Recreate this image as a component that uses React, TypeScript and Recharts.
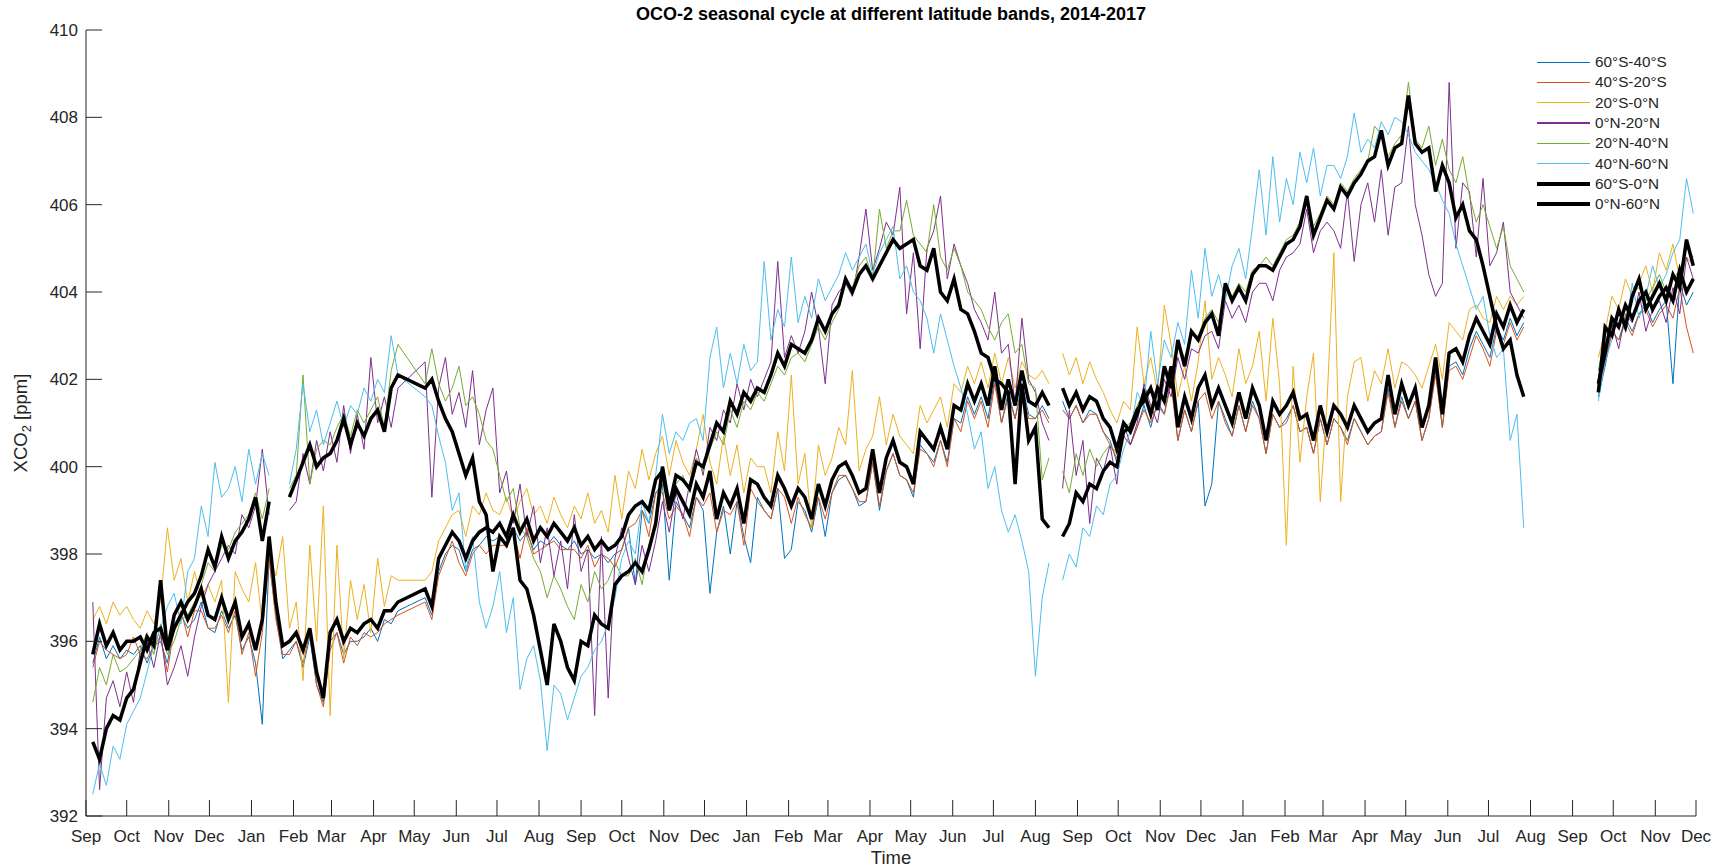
import React from 'react';
import { LineChart, Line, XAxis, YAxis } from 'recharts';

const FONT = '"Liberation Sans", Arial, Helvetica, sans-serif';
const INK = '#262626';
const W = 1728;
const H = 868;
const PLOT = { left: 86, right: 1696, top: 30, bottom: 816 };
const TICK = 16;

// x = days since 1 Sep 2014, every 5 days; one-point spans are data gaps
const daySpans = [[5, 230], [250, 710], [715, 715], [720, 1060], [1090, 1090], [1115, 1185]];
const days: number[] = [];
daySpans.forEach(([a, b]) => {
  for (let d = a; d <= b; d += 5) days.push(d);
});

const monthNames = ['Jan', 'Feb', 'Mar', 'Apr', 'May', 'Jun', 'Jul', 'Aug', 'Sep', 'Oct', 'Nov', 'Dec'];
const yTicks = [392, 394, 396, 398, 400, 402, 404, 406, 408, 410];

// month ticks Sep 2014 .. Dec 2017
const monthTicks: number[] = [];
const monthLabels: string[] = [];
const t0 = Date.UTC(2014, 8, 1);
for (let m = 8; m <= 47; m++) {
  monthTicks.push(Math.round((Date.UTC(2014, m, 1) - t0) / 86400000));
  monthLabels.push(monthNames[m % 12]);
}

const band60S40S = [
  395.5, 396.1, 395.6, 395.9, 395.6, 395.8, 395.7, 395.9, 395.5, 395.9,
  396.0, 395.5, 396.4, 396.6, 396.3, 396.5, 396.9, 396.3, 396.2, 396.7,
  396.3, 396.6, 395.8, 396.1, 395.5, 394.1, 397.9, 396.6, 395.6, 395.8,
  396.0, 395.4, 396.1, 395.0, 394.6, 396.0, 396.2, 395.7, 396.0, 396.0,
  396.1, 396.3, 396.0, 396.5, 396.4, 396.7,
  397.0, 396.6, 397.6, 398.0, 398.2, 398.1, 397.6, 398.1, 398.2, 398.4,
  398.3, 398.4, 398.2, 398.6, 398.3, 398.5, 398.1, 398.3, 398.2, 398.4,
  398.2, 398.1, 398.3, 398.0, 398.1, 397.9, 398.0, 397.8, 398.0, 398.1,
  398.6, 397.3, 399.0, 398.7, 399.4, 399.6, 397.4, 399.2, 398.9, 398.6,
  399.3, 399.0, 397.1, 398.5, 399.1, 398.0, 399.2, 398.4, 397.8, 399.3,
  399.0, 398.8, 399.5, 397.9, 398.1, 399.2, 399.0, 398.5, 399.3, 398.4,
  399.4, 399.7, 399.8, 399.5, 399.1, 399.2, 400.1, 399.0, 399.9, 400.3,
  399.8, 399.7, 399.3, 400.5, 400.3, 400.1, 400.6, 400.1, 401.1, 401.0,
  401.6, 401.2, 401.6, 401.1, 402.0, 401.0, 401.7, 401.1, 401.9, 401.2,
  401.1, 401.4, 401.1,
  null,
  401.5, 401.1, 401.4, 401.0, 401.3, 401.2, 400.8, 400.6, 400.1, 400.7,
  400.5, 400.9, 401.4, 400.9, 401.5, 401.2, 402.0, 400.6, 401.3, 400.8,
  401.5, 399.1, 399.6, 401.5, 401.1, 400.7, 401.4, 400.8, 401.5, 401.1,
  400.3, 401.2, 400.9, 401.1, 401.4, 400.8, 400.9, 400.3, 401.1, 400.5,
  401.1, 400.9, 400.6, 401.1, 400.8, 400.5, 400.7, 400.8, 401.8, 400.9,
  401.6, 401.1, 401.5, 400.6, 401.1, 402.2, 400.9, 402.3, 402.4, 402.1,
  402.7, 403.1, 402.8, 402.5, 403.2, 402.9, 403.4, 403.0, 403.3,
  null,
  401.6, 402.3, 403.1, 402.9, 403.4, 403.1, 403.5, 403.7, 403.3, 403.6,
  403.8, 401.9, 404.2, 403.7, 404.0,
];

const band40S20S = [
  395.4, 396.0, 395.8, 395.7, 395.6, 395.7, 396.1, 395.7, 395.6, 395.9,
  396.1, 395.3, 396.3, 396.7, 396.1, 396.7, 396.7, 396.3, 396.3, 396.6,
  396.2, 396.7, 395.7, 396.2, 395.2, 396.2, 397.9, 396.5, 395.7, 395.7,
  396.0, 395.5, 396.2, 395.0, 394.5, 395.8, 396.2, 395.5, 396.1, 395.9,
  396.2, 396.1, 396.2, 396.4, 396.5, 396.6,
  396.9, 396.5, 397.5, 397.9, 398.3, 397.8, 397.5, 398.0, 398.2, 398.0,
  398.2, 398.2, 398.2, 398.5, 397.9, 398.6, 398.0, 398.1, 398.2, 398.3,
  398.1, 398.1, 398.1, 397.9, 398.2, 397.7, 398.0, 397.9, 397.7, 398.1,
  398.6, 398.7, 399.0, 398.4, 399.4, 399.4, 398.8, 399.1, 398.9, 398.4,
  399.3, 399.1, 399.4, 398.5, 399.0, 398.9, 399.2, 398.2, 399.5, 399.2,
  399.0, 398.8, 399.5, 399.3, 398.7, 399.3, 398.9, 398.6, 399.3, 398.8,
  399.4, 399.8, 399.8, 399.5, 399.2, 399.2, 400.1, 399.1, 399.9, 400.3,
  399.8, 399.7, 399.4, 400.4, 400.3, 400.0, 400.6, 400.0, 401.1, 400.8,
  401.5, 401.1, 401.5, 400.9, 401.9, 401.0, 401.6, 401.1, 401.8, 401.1,
  401.1, 401.3, 401.0,
  null,
  401.3, 401.1, 401.4, 401.0, 401.2, 401.2, 400.8, 400.5, 400.2, 400.7,
  400.5, 400.9, 401.3, 401.0, 401.4, 401.2, 401.9, 400.6, 401.3, 400.8,
  401.5, 401.7, 401.1, 401.5, 401.0, 400.7, 401.4, 400.8, 401.4, 401.1,
  400.3, 401.2, 400.9, 401.0, 401.4, 400.8, 400.9, 400.3, 401.1, 400.5,
  401.1, 400.9, 400.5, 401.1, 400.8, 400.5, 400.7, 400.8, 401.7, 400.9,
  401.5, 401.1, 401.5, 400.6, 401.1, 402.1, 400.9, 402.2, 402.3, 402.0,
  402.5, 403.0, 402.7, 402.3, 403.1, 402.8, 403.3, 402.9, 403.2,
  null,
  401.7, 402.4, 403.1, 402.9, 403.3, 403.0, 403.5, 403.6, 403.2, 403.5,
  403.7, 403.4, 404.1, 403.2, 402.6,
];

const band20S0N = [
  396.5, 396.8, 396.4, 396.9, 396.6, 396.8, 396.5, 396.3, 396.7, 396.4,
  396.9, 398.6, 397.4, 397.9, 396.9, 397.6, 397.0, 397.3, 396.9, 397.4,
  394.6, 397.6, 397.2, 396.9, 397.8, 396.4, 398.0, 397.5, 398.4, 396.3,
  396.9, 395.1, 398.2, 396.0, 399.1, 394.3, 398.2, 395.6, 397.4, 396.5,
  397.3, 396.2, 397.9, 396.8, 397.5, 397.4,
  397.4, 397.6, 398.3, 398.6, 398.9, 399.0, 398.4, 399.1, 398.9, 399.4,
  399.0, 398.9, 399.3, 398.8, 399.2, 399.5, 398.9, 399.1, 398.7, 399.3,
  398.9, 398.6, 399.1, 398.8, 399.4, 398.7, 399.0, 398.5, 399.8, 398.8,
  399.9, 399.5, 400.4, 399.7, 400.3, 400.7, 399.8, 400.6, 400.1, 399.8,
  400.4, 401.2, 400.1, 399.6, 400.7, 399.8, 400.5, 399.4, 400.2, 400.0,
  400.0, 399.4, 400.8, 399.9, 402.1, 399.6, 400.3, 398.6, 400.5, 399.8,
  400.2, 400.9, 400.5, 402.2, 399.9, 400.4, 400.7, 401.6, 400.5, 401.2,
  400.7, 400.5, 400.3, 401.4, 401.0, 401.3, 401.6, 400.9, 401.9, 401.7,
  402.3, 401.9, 402.4, 401.8, 402.6, 401.9, 402.5, 401.8, 402.4, 402.1,
  402.0, 402.2, 401.9,
  null,
  402.6, 402.1, 402.5, 401.9, 402.4, 402.0, 401.7, 401.3, 401.0, 401.5,
  401.3, 403.2, 401.9, 402.5, 401.7, 403.7, 402.8, 401.6, 402.3, 401.5,
  402.4, 403.8, 402.0, 402.5, 402.1, 401.6, 402.7, 401.9, 402.3, 403.1,
  401.5, 403.4, 401.9, 398.2, 402.3, 400.1, 401.6, 402.6, 399.2, 401.5,
  404.9, 399.2, 401.6, 402.4, 402.5, 401.5, 402.2, 401.9, 402.7, 401.8,
  402.4, 402.3, 402.1, 401.8, 402.3, 402.8, 402.0, 403.3, 403.1, 402.9,
  403.6, 403.7, 403.4, 403.3, 403.9, 403.6, 403.9, 403.7, 403.9,
  null,
  402.5, 403.1, 403.9, 403.6, 404.3, 403.9, 404.2, 404.6, 404.0, 404.9,
  404.5, 405.1, 404.3, 404.8, 404.6,
];

const band0N20N = [
  396.9, 392.6, 394.7, 395.1, 394.5, 395.3, 394.6, 395.8, 396.0, 395.4,
  396.2, 395.0, 395.4, 395.9, 395.2, 396.1, 396.8, 397.3, 397.6, 397.9,
  398.2, 398.0, 398.9, 398.6, 399.1, 400.4, 398.9, null, null, 399.0,
  399.2, 400.3, 399.6, 400.6, 399.9, 400.8, 400.1, 401.4, 400.3, 401.2,
  400.4, 402.5, 401.0, 401.6, 400.9, 401.8,
  402.4, 399.3, 401.8, 402.5, 401.2, 401.7, 400.9, 402.2, 400.5, 401.3,
  401.8, 399.4, 399.9, 398.7, 399.6, 398.4, 399.1, 397.8, 398.6, 397.5,
  398.3, 397.2, 398.9, 397.6, 398.1, 394.3, 398.4, 394.7, 397.9, 398.6,
  397.9, 397.3, 398.2, 397.6, 398.3, 399.2, 398.5, 399.4, 398.8, 399.6,
  400.4, 399.8, 400.9, 400.6, 401.3, 401.0, 401.9, 401.3, 402.0, 401.6,
  402.0, 402.4, 404.7, 402.5, 403.0, 402.6, 403.1, 404.0, 403.2, 401.9,
  403.7, 404.0, 404.2, 403.9, 404.8, 405.9, 404.5, 405.0, 405.6, 405.3,
  406.4, 403.5, 404.9, 402.7, 405.0, 405.4, 406.2, 404.3, 405.1, 404.6,
  404.2, 403.6, 403.3, 402.9, 404.0, 402.6, 402.8, 401.4, 403.4, 402.0,
  401.7, 401.0, 400.6,
  null,
  399.5, 401.3, 399.8, 400.6, 398.7, 400.2, 399.9, 400.5, 399.6, 401.0,
  400.5, 401.0, 401.9, 401.4, 401.0, 402.0, 401.6, 402.5, 402.0, 402.7,
  402.6, 403.0, 403.1, 402.7, 403.8, 403.4, 403.7, 403.3, 404.0, 404.2,
  404.2, 403.8, 404.5, 404.8, 404.9, 405.1, 405.9, 404.9, 405.4, 405.6,
  405.4, 405.0, 406.3, 404.7, 406.0, 406.5, 405.6, 406.8, 405.3, 406.4,
  406.5, 407.8, 406.0, 405.3, 404.4, 403.9, 404.2, 408.8, 405.0, 406.5,
  406.3, 404.8, 406.6, 404.6, 404.9, 405.6, 404.0, 403.7, 403.4,
  null,
  401.9, 402.8, 403.3, 402.7, 403.5, 403.3, 404.0, 403.1, 403.6, 403.8,
  403.3, 404.1, 403.5, 404.8, 404.3,
];

const band20N40N = [
  394.6, 395.4, 395.0, 395.7, 395.3, 395.4, 395.6, 395.8, 396.2, 395.7,
  396.4, 395.7, 396.0, 396.5, 396.6, 396.9, 397.3, 397.8, 397.6, 398.2,
  398.1, 398.5, 398.7, 398.9, 399.4, 398.8, 399.5, null, null, 399.5,
  399.8, 402.1, 399.6, 400.4, 400.6, 400.5, 400.9, 401.2, 400.7, 401.3,
  401.0, 401.3, 401.6, 400.9, 402.2, 402.8,
  401.9, 402.7, 401.9, 401.5, 401.8, 402.3, 401.4, 401.6, 401.2, 400.6,
  400.4, 399.8, 399.2, 399.5, 398.6, 398.4, 397.9, 397.6, 397.0, 397.5,
  397.2, 396.8, 396.5, 397.3, 396.9, 397.6, 397.2, 397.4, 397.8, 397.5,
  397.5, 397.9, 397.3, 398.2, 398.6, 399.7, 399.0, 399.6, 399.8, 399.4,
  400.2, 399.9, 400.4, 400.8, 400.5, 401.3, 400.9, 401.5, 401.3, 401.7,
  401.5, 401.9, 402.3, 402.1, 402.5, 402.6, 402.4, 402.8, 403.2, 402.9,
  403.3, 403.6, 404.2, 404.1, 404.6, 404.8, 404.3, 405.9, 405.0, 405.4,
  405.4, 406.1, 405.3, 405.1, 404.9, 406.0, 404.8, 404.5, 405.0, 404.6,
  404.0, 403.8, 403.6, 403.2, 402.9, 403.3, 403.5, 402.6, 402.8, 401.9,
  401.8, 399.7, 400.2,
  null,
  399.9, 399.4, 400.3, 399.8, 400.4, 400.0, 400.3, 400.5, 400.3, 400.9,
  401.0, 401.4, 401.7, 401.8, 401.6, 402.2, 402.0, 402.8, 402.5, 403.0,
  403.0, 403.4, 403.6, 403.3, 404.1, 403.9, 404.2, 404.0, 404.5, 404.6,
  404.8, 404.6, 404.9, 405.2, 405.3, 405.6, 406.0, 405.5, 405.8, 406.2,
  406.0, 406.5, 406.3, 406.6, 406.8, 407.0, 407.8, 407.6, 407.1, 407.4,
  407.6, 408.8, 407.5, 407.3, 407.8, 406.9, 407.5, 406.8, 406.5, 407.1,
  406.2, 405.6, 406.0, 405.5, 405.0, 405.5, 404.6, 404.3, 404.0,
  null,
  402.2, 403.0, 403.3, 403.5, 403.4, 404.0, 404.1, 403.8, 404.1, 404.4,
  404.0, 404.3, 404.5, 405.0, 404.8,
];

const band40N60N = [
  392.5, 393.2, 392.7, 393.6, 393.3, 394.1, 394.4, 394.7, 395.3, 395.9,
  396.3, 396.8, 397.1, 396.4, 397.6, 397.9, 399.1, 398.4, 400.1, 399.3,
  399.5, 400.0, 399.2, 400.4, 399.6, 400.3, 399.8, null, null, 399.6,
  400.4, 401.9, 400.8, 401.3, 400.5, 401.0, 401.5, 400.9, 401.4, 401.2,
  401.8, 401.5, 402.0, 401.7, 403.0, 402.1,
  401.6, 401.4, 400.7, 400.1, 399.0, 399.4, 397.6, 398.4, 396.9, 396.3,
  396.8, 397.6, 396.2, 397.0, 394.9, 395.6, 395.9, 395.1, 393.5, 395.0,
  394.8, 394.2, 394.7, 395.2, 395.4, 395.8, 396.0, 396.4, 397.0, 397.9,
  398.3, 398.0, 399.2, 398.7, 399.8, 401.2, 400.3, 400.8, 400.6, 401.0,
  401.1, 400.6, 402.5, 403.2, 401.8, 402.6, 401.9, 402.8, 402.2, 402.4,
  404.7, 402.9, 403.6, 403.2, 404.8, 403.3, 403.9, 403.4, 404.3, 403.8,
  404.1, 404.4, 404.9, 404.5, 404.8, 405.1, 404.4, 404.9, 405.2, 405.5,
  404.3, 404.6, 404.0, 403.8, 403.4, 402.6, 403.5, 402.9, 402.3, 401.8,
  401.2, 400.4, 400.8, 399.5, 400.0, 399.0, 398.5, 398.9, 398.3, 397.6,
  395.2, 397.0, 397.8,
  null,
  397.4, 398.0, 397.7, 398.6, 398.4, 399.1, 398.9, 399.6, 399.8, 400.4,
  400.8, 401.7, 401.4, 403.1, 401.9, 402.9, 402.5, 403.3, 402.8, 404.5,
  403.4, 405.0, 403.9, 404.4, 403.8, 404.6, 405.0, 404.3, 405.5, 406.8,
  405.3, 407.1, 405.6, 406.6, 406.0, 407.2, 406.5, 407.3, 406.2, 406.9,
  406.9, 406.6, 407.1, 408.1, 407.2, 407.5, 407.3, 407.9, 407.6, 408.0,
  407.9, 407.6, 407.2, 407.0, 406.8, 406.5, 406.1, 405.8, 405.1, 404.6,
  404.1, 403.6, 403.9, 403.0, 402.5, 402.7, 400.6, 401.2, 398.6,
  null,
  401.5, 402.4, 402.9, 403.6, 403.1, 404.2, 403.4, 403.9, 404.6, 404.1,
  404.4, 404.9, 405.2, 406.6, 405.8,
];

const mean60S0N = [
  395.7, 396.4, 395.9, 396.2, 395.8, 396.0, 396.0, 396.1, 395.8, 396.2,
  396.3, 395.8, 396.6, 396.9, 396.5, 396.8, 397.2, 396.6, 396.5, 397.0,
  396.5, 396.9, 396.1, 396.4, 395.8, 396.5, 398.4, 396.9, 395.9, 396.0,
  396.2, 395.8, 396.3, 395.3, 394.7, 396.2, 396.5, 396.0, 396.3, 396.2,
  396.4, 396.5, 396.3, 396.7, 396.7, 396.9,
  397.2, 396.8, 397.9, 398.2, 398.5, 398.3, 397.9, 398.3, 398.5, 398.6,
  398.5, 398.7, 398.4, 398.9, 398.5, 398.8, 398.3, 398.6, 398.4, 398.7,
  398.5, 398.3, 398.6, 398.2, 398.4, 398.1, 398.3, 398.1, 398.2, 398.4,
  398.9, 399.1, 399.2, 399.0, 399.7, 399.9, 399.0, 399.5, 399.2, 398.9,
  399.6, 399.3, 399.9, 398.8, 399.4, 399.1, 399.5, 398.7, 399.7, 399.6,
  399.3, 399.1, 399.8, 399.5, 399.1, 399.5, 399.3, 398.8, 399.6, 399.1,
  399.7, 400.0, 400.1, 399.8, 399.4, 399.5, 400.4, 399.4, 400.2, 400.6,
  400.1, 400.0, 399.6, 400.8, 400.6, 400.4, 400.9, 400.4, 401.4, 401.3,
  401.9, 401.5, 401.9, 401.4, 402.3, 401.3, 402.0, 401.4, 402.2, 401.5,
  401.4, 401.7, 401.4,
  null,
  401.8, 401.4, 401.7, 401.3, 401.6, 401.5, 401.1, 400.9, 400.4, 401.0,
  400.8, 401.2, 401.7, 401.2, 401.8, 401.5, 402.3, 400.9, 401.6, 401.1,
  401.8, 402.1, 401.4, 401.8, 401.4, 401.0, 401.7, 401.1, 401.8, 401.4,
  400.6, 401.5, 401.2, 401.4, 401.7, 401.1, 401.2, 400.6, 401.4, 400.8,
  401.4, 401.2, 400.9, 401.4, 401.1, 400.8, 401.0, 401.1, 402.1, 401.2,
  401.9, 401.4, 401.8, 400.9, 401.4, 402.5, 401.2, 402.6, 402.7, 402.4,
  403.0, 403.4, 403.1, 402.8, 403.5, 403.2, 403.7, 403.3, 403.6,
  null,
  401.9, 402.6, 403.4, 403.2, 403.7, 403.4, 403.8, 404.0, 403.6, 403.9,
  404.1, 403.8, 404.5, 404.0, 404.3,
];

const mean0N60N = [
  393.7, 393.3, 394.0, 394.3, 394.2, 394.7, 394.9, 395.5, 396.1, 395.9,
  397.4, 395.8, 396.3, 396.6, 396.9, 397.1, 397.5, 398.1, 397.7, 398.4,
  397.9, 398.3, 398.5, 398.8, 399.3, 398.3, 399.2, null, null, 399.3,
  399.7, 400.1, 400.5, 400.0, 400.2, 400.3, 400.6, 401.1, 400.5, 401.0,
  400.7, 401.1, 401.3, 400.8, 401.8, 402.1,
  401.8, 402.0, 401.5, 401.1, 400.8, 400.3, 399.8, 400.2, 399.2, 398.9,
  397.6, 398.4, 398.2, 398.6, 397.4, 397.2, 396.6, 395.8, 395.0, 396.4,
  396.0, 395.4, 395.1, 396.0, 395.9, 396.6, 396.4, 396.3, 397.3, 397.5,
  397.6, 397.8, 397.6, 398.1, 398.7, 400.0, 399.1, 399.8, 399.7, 399.5,
  400.1, 400.0, 400.5, 401.0, 400.8, 401.5, 401.2, 401.7, 401.5, 401.8,
  401.7, 402.1, 402.6, 402.3, 402.8, 402.7, 402.6, 402.9, 403.4, 403.1,
  403.5, 403.7, 404.3, 404.0, 404.4, 404.6, 404.3, 404.6, 404.9, 405.2,
  405.0, 405.1, 405.2, 404.6, 404.5, 405.0, 404.0, 403.8, 404.3, 403.6,
  403.5, 403.1, 402.6, 402.5, 402.0, 401.9, 401.7, 399.6, 401.9, 400.6,
  400.9, 398.8, 398.6,
  null,
  398.4, 398.7, 399.4, 399.2, 399.6, 399.5, 399.9, 400.1, 400.0, 400.8,
  400.9, 401.3, 401.5, 401.8, 401.3, 402.3, 401.8, 402.9, 402.3, 403.1,
  402.9, 403.3, 403.5, 403.0, 404.2, 403.8, 404.1, 403.8, 404.4, 404.6,
  404.6, 404.5, 404.8, 405.1, 405.2, 405.5, 406.2, 405.3, 405.7, 406.1,
  405.9, 406.4, 406.2, 406.5, 406.7, 407.0, 407.1, 407.7, 406.9, 407.3,
  407.4, 408.5, 407.4, 407.2, 407.3, 406.3, 406.9, 406.5, 405.7, 406.0,
  405.4, 405.2, 404.6, 403.9, 403.2, 402.7, 402.9, 402.1, 401.6,
  null,
  401.7, 403.2, 403.0, 403.6, 403.2, 403.9, 404.3, 403.6, 403.9, 404.2,
  403.8, 404.4, 404.1, 405.2, 404.6,
];

const series = [
  { key: 'b1', name: '60°S-40°S', color: '#0072BD', width: 1, values: band60S40S },
  { key: 'b2', name: '40°S-20°S', color: '#D95319', width: 1, values: band40S20S },
  { key: 'b3', name: '20°S-0°N', color: '#EDB120', width: 1, values: band20S0N },
  { key: 'b4', name: '0°N-20°N', color: '#7E2F8E', width: 1, values: band0N20N },
  { key: 'b5', name: '20°N-40°N', color: '#77AC30', width: 1, values: band20N40N },
  { key: 'b6', name: '40°N-60°N', color: '#4DBEEE', width: 1, values: band40N60N },
  { key: 'm1', name: '60°S-0°N', color: '#000000', width: 3.5, values: mean60S0N },
  { key: 'm2', name: '0°N-60°N', color: '#000000', width: 3.5, values: mean0N60N },
];

series.forEach((s) => {
  if (s.values.length !== days.length) console.warn(s.name, s.values.length, days.length);
});

const rows = days.map((day, i) => {
  const r: Record<string, number | null> = { day };
  series.forEach((s) => {
    r[s.key] = s.values[i] ?? null;
  });
  return r;
});

const BottomTick = (props: any) => {
  const { x, payload } = props;
  const label = monthLabels[monthTicks.indexOf(payload.value)];
  return (
    <g>
      <line x1={x} x2={x} y1={PLOT.bottom} y2={PLOT.bottom - TICK} stroke={INK} />
      <text x={x} y={PLOT.bottom + 26} textAnchor="middle" fontSize={17} fill={INK} fontFamily={FONT}>
        {label}
      </text>
    </g>
  );
};

const TopTick = (props: any) => (
  <line x1={props.x} x2={props.x} y1={PLOT.top} y2={PLOT.top + TICK} stroke={INK} />
);

const LeftTick = (props: any) => {
  const { y, payload } = props;
  return (
    <g>
      <line x1={PLOT.left} x2={PLOT.left + TICK} y1={y} y2={y} stroke={INK} />
      <text x={PLOT.left - 8} y={y + 6} textAnchor="end" fontSize={17} fill={INK} fontFamily={FONT}>
        {payload.value}
      </text>
    </g>
  );
};

const RightTick = (props: any) => (
  <line x1={PLOT.right} x2={PLOT.right - TICK} y1={props.y} y2={props.y} stroke={INK} />
);

const App: React.FC = () => {
  return (
    <div style={{ position: 'absolute', left: 0, top: 0, width: W, height: H, background: '#fff', fontFamily: FONT, color: INK }}>
      <LineChart
        width={W}
        height={H}
        data={rows}
        margin={{ top: PLOT.top, right: W - PLOT.right, bottom: 0, left: 0 }}
      >
        <XAxis
          xAxisId="b"
          dataKey="day"
          type="number"
          domain={[0, monthTicks[monthTicks.length - 1]]}
          ticks={monthTicks}
          interval={0}
          allowDataOverflow
          height={H - PLOT.bottom}
          axisLine={{ stroke: INK }}
          tickLine={false}
          tick={BottomTick}
        />
        <XAxis
          xAxisId="t"
          orientation="top"
          dataKey="day"
          type="number"
          domain={[0, monthTicks[monthTicks.length - 1]]}
          ticks={monthTicks}
          interval={0}
          allowDataOverflow
          height={0}
          axisLine={{ stroke: INK }}
          tickLine={false}
          tick={TopTick}
        />
        <YAxis
          yAxisId="l"
          type="number"
          domain={[392, 410]}
          ticks={yTicks}
          interval={0}
          allowDataOverflow
          width={PLOT.left}
          axisLine={{ stroke: INK }}
          tickLine={false}
          tick={LeftTick}
        />
        <YAxis
          yAxisId="r"
          orientation="right"
          type="number"
          domain={[392, 410]}
          ticks={yTicks}
          interval={0}
          allowDataOverflow
          width={0}
          axisLine={{ stroke: INK }}
          tickLine={false}
          tick={RightTick}
        />
        {series.map((s) => (
          <Line
            key={s.key}
            xAxisId="b"
            yAxisId="l"
            type="linear"
            dataKey={s.key}
            name={s.name}
            stroke={s.color}
            strokeWidth={s.width}
            dot={false}
            activeDot={false}
            connectNulls={false}
            isAnimationActive={false}
          />
        ))}
      </LineChart>

      {/* title */}
      <div
        style={{
          position: 'absolute',
          left: PLOT.left,
          width: PLOT.right - PLOT.left,
          top: 4,
          textAlign: 'center',
          fontSize: 18,
          lineHeight: '20px',
          fontWeight: 'bold',
          color: '#000',
        }}
      >
        OCO-2 seasonal cycle at different latitude bands, 2014-2017
      </div>

      {/* x label */}
      <div
        style={{
          position: 'absolute',
          left: PLOT.left,
          width: PLOT.right - PLOT.left,
          top: 848,
          textAlign: 'center',
          fontSize: 18.5,
          lineHeight: '20px',
        }}
      >
        Time
      </div>

      {/* y label */}
      <div
        style={{
          position: 'absolute',
          left: 24,
          top: (PLOT.top + PLOT.bottom) / 2,
          transform: 'translate(-50%, -50%) rotate(-90deg)',
          whiteSpace: 'nowrap',
          fontSize: 18.5,
          lineHeight: '20px',
        }}
      >
        XCO<sub style={{ fontSize: 13 }}>2</sub> [ppm]
      </div>

      {/* legend */}
      <div style={{ position: 'absolute', left: 1537, top: 52, fontSize: 15.3 }}>
        {series.map((s) => (
          <div key={s.key} style={{ display: 'flex', alignItems: 'center', height: 20.3 }}>
            <div style={{ width: 53, height: s.width === 1 ? 1.3 : 4, background: s.color }} />
            <span style={{ marginLeft: 5, lineHeight: '20px' }}>{s.name}</span>
          </div>
        ))}
      </div>
    </div>
  );
};

export default App;
